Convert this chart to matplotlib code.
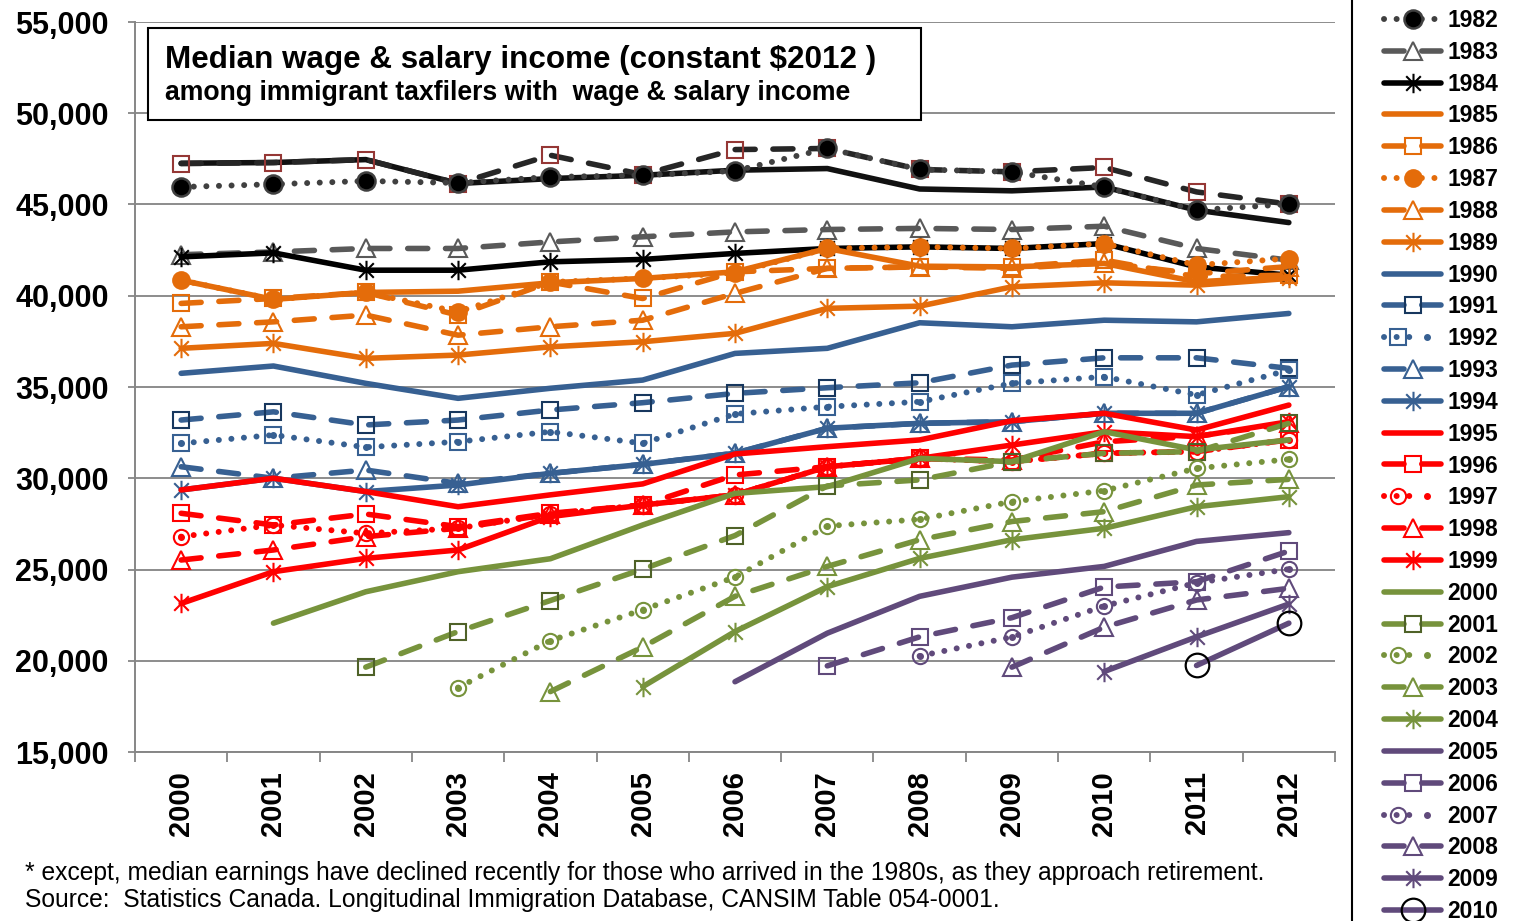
import numpy as np
import matplotlib
matplotlib.use("Agg")
import matplotlib.pyplot as plt
from matplotlib.lines import Line2D
from matplotlib.patches import Rectangle
from matplotlib.path import Path
from matplotlib.legend_handler import HandlerTuple

plt.rcParams['font.family'] = ['Liberation Sans', 'DejaVu Sans']

years = [2000, 2001, 2002, 2003, 2004, 2005, 2006, 2007, 2008, 2009, 2010, 2011, 2012]
N = None

# median wage & salary income by landing year (cohort), constant 2012 $
y1980 = [47260, 47300, 47460, 46150, 46420, 46600, 46880, 46970, 45850, 45750, 45960, 44690, 44010]
y1981 = [47240, 47300, 47460, 46150, 47700, 46640, 48010, 48070, 46920, 46790, 47030, 45690, 45020]
y1982 = [45960, 46110, 46290, 46180, 46510, 46600, 46840, 48070, 46920, 46790, 45960, 44690, 45020]
y1983 = [42250, 42400, 42590, 42590, 42950, 43230, 43500, 43630, 43690, 43630, 43810, 42590, 41950]
y1984 = [42130, 42350, 41400, 41400, 41860, 41990, 42320, 42590, 42680, 42590, 42860, 41580, 41130]
y1985 = [40850, 39800, 40180, 40250, 40710, 40950, 41310, 42590, 41620, 41580, 41770, 40760, 41040]
y1986 = [39580, 39850, 40180, 38940, 40750, 39850, 41310, 41500, 41580, 41580, 41950, 41040, 41130]
y1987 = [40850, 39800, 40180, 39120, 40750, 40950, 41260, 42590, 42680, 42590, 42860, 41680, 42040]
y1988 = [38300, 38570, 38940, 37840, 38300, 38660, 40130, 41500, 41580, 41500, 41800, 41200, 41600]
y1989 = [37120, 37390, 36570, 36750, 37200, 37480, 37940, 39310, 39430, 40490, 40710, 40580, 40950]
y1990 = [35750, 36150, 35200, 34380, 34930, 35380, 36840, 37120, 38520, 38300, 38660, 38570, 39030]
y1991 = [33190, 33640, 32920, 33190, 33740, 34140, 34650, 34960, 35230, 36200, 36600, 36600, 36020]
y1992 = [31910, 32370, 31700, 32000, 32550, 31910, 33520, 33920, 34190, 35200, 35560, 34560, 35930]
y1993 = [30630, 30000, 30450, 29720, 30270, 30760, 31370, 32740, 33010, 33100, 33560, 33560, 35020]
y1994 = [29360, 30000, 29270, 29630, 30270, 30760, 31370, 32740, 33010, 33100, 33560, 33560, 35020]
y1995 = [29360, 30000, 29270, 28440, 29090, 29690, 31330, 31730, 32100, 33150, 33560, 32640, 34010]
y1996 = [28080, 27440, 28040, 27350, 28080, 28530, 30180, 30630, 31090, 30910, 31370, 31460, 32100]
y1997 = [26800, 27440, 26980, 27260, 28040, 28530, 29090, 30630, 31090, 30910, 31370, 31460, 32100]
y1998 = [25520, 26070, 26800, 27260, 28040, 28530, 29090, 30630, 31090, 31000, 32000, 32300, 33000]
y1999 = [23140, 24880, 25610, 26070, 27900, 28530, 29090, 30630, 31090, 31820, 32550, 32280, 33100]
y2000 = [N, 22060, 23780, 24880, 25590, 27440, 29170, 29540, 31090, 30910, 32550, 31550, 32100]
y2001 = [N, N, 19650, 21600, 23300, 25020, 26860, 29580, 29910, 30910, 31370, 31460, 33010]
y2002 = [N, N, N, 18530, 21100, 22790, 24580, 27380, 27750, 28720, 29320, 30540, 31040]
y2003 = [N, N, N, N, 18310, 20750, 23530, 25170, 26630, 27630, 28170, 29630, 29940]
y2004 = [N, N, N, N, N, 18580, 21600, 24060, 25610, 26630, 27260, 28440, 28990]
y2005 = [N, N, N, N, N, N, 18850, 21510, 23530, 24580, 25170, 26540, 27020]
y2006 = [N, N, N, N, N, N, N, 19720, 21310, 22360, 24040, 24330, 26010]
y2007 = [N, N, N, N, N, N, N, N, 20260, 21300, 23000, 24270, 25020]
y2008 = [N, N, N, N, N, N, N, N, N, 19650, 21840, 23330, 23970]
y2009 = [N, N, N, N, N, N, N, N, N, N, 19410, 21310, 23110]
y2010 = [N, N, N, N, N, N, N, N, N, N, N, 19740, 22060]

cohorts = [1980, 1981, 1982, 1983, 1984, 1985, 1986, 1987, 1988, 1989,
           1990, 1991, 1992, 1993, 1994, 1995, 1996, 1997, 1998, 1999,
           2000, 2001, 2002, 2003, 2004, 2005, 2006, 2007, 2008, 2009, 2010]
series = [y1980, y1981, y1982, y1983, y1984, y1985, y1986, y1987, y1988, y1989,
          y1990, y1991, y1992, y1993, y1994, y1995, y1996, y1997, y1998, y1999,
          y2000, y2001, y2002, y2003, y2004, y2005, y2006, y2007, y2008, y2009, y2010]

ORANGE = '#E46C0A'
BLUE = '#376092'
RED = '#FF0000'
GREEN = '#77933C'
PURPLE = '#604A7B'

# asterisk marker like excel's (x + vertical bar)
ast = Path([(0, -1), (0, 1), (-0.75, -0.75), (0.75, 0.75), (-0.75, 0.75), (0.75, -0.75)],
           [Path.MOVETO, Path.LINETO] * 3)

LW = 4.0
DASH = (3.6, 3.2)
DOT = (0.01, 2.1)

def style(c):
    i = (c - 1980) % 5
    group = (c - 1980) // 5
    col = ['#111111', ORANGE, BLUE, RED, GREEN, PURPLE, PURPLE][group]
    st = dict(color=col, lw=LW, solid_capstyle='round', dash_capstyle='round',
              markersize=12, markeredgewidth=1.5, markerfacecolor='none', markeredgecolor=col)
    dot = False
    if i == 0:
        st['marker'] = 'None'
    elif i == 1:
        st.update(marker='s', dashes=DASH)
    elif i == 2:
        st.update(marker='o', dashes=DOT, markersize=11, lw=4.3)
        dot = True
    elif i == 3:
        st.update(marker='^', dashes=DASH, markersize=12.5)
    else:
        st.update(marker=ast, markersize=14, markeredgewidth=1.5)
    return st, dot

fig = plt.figure(figsize=(15.18, 9.21), dpi=100)
ax = fig.add_axes([135 / 1518, 1 - 752 / 921, 1200 / 1518, 730 / 921])
x = np.arange(len(years))

handles, labels = [], []
for c, vals in zip(cohorts, series):
    st, dot = style(c)
    if c == 1981:
        st.update(color='#262626', markeredgecolor='#953735')
    if c == 1982:
        st.update(color='#404040', markerfacecolor='black', markeredgecolor='#404040',
                  markersize=13, markeredgewidth=1.8)
        dot = False
    if c == 1983:
        st.update(color='#595959', markeredgecolor='#595959')
    if c == 1984:
        st.update(color='black', markeredgecolor='black')
    if c == 1987:
        st.update(markerfacecolor=ORANGE, markersize=12)
        dot = False
    if c == 1991:
        st.update(markeredgecolor='#17375E')
    if c == 1992:
        st.update(marker='s', markersize=12)
    if c == 2001:
        st.update(markeredgecolor='#4F6228')
    if c == 2010:
        st.update(marker='o', markersize=17, markeredgecolor='black', markeredgewidth=1.6)
    v = np.array([np.nan if a is None else a for a in vals], dtype=float)
    ln, = ax.plot(x, v, **st)
    h = ln
    if dot:
        d, = ax.plot(x, v, ls='None', marker='o', markersize=4, color=st['color'])
        h = (ln, d)
    if c >= 1982:
        handles.append(h)
        labels.append(str(c))

ax.set_xlim(-0.5, 12.5)
ax.set_ylim(15000, 55000)
ax.set_yticks(np.arange(15000, 55001, 5000))
ax.set_yticklabels(['{:,}'.format(v) for v in range(15000, 55001, 5000)],
                   fontsize=22, fontweight='bold')
ax.set_xticks(x)
ax.set_xticklabels([str(y) for y in years], rotation=90, fontsize=21, fontweight='bold')
ax.set_xticks(np.arange(-0.5, 13, 1), minor=True)
ax.tick_params(axis='x', which='major', length=0, pad=14)
ax.tick_params(axis='x', which='minor', length=7, color='#868686', width=1.3)
ax.tick_params(axis='y', length=5, color='#868686', width=1.3, pad=14)
ax.grid(axis='y', color='#8C8C8C', lw=1.4)
ax.set_axisbelow(True)
for s in ['top', 'right']:
    ax.spines[s].set_visible(False)
for s in ['left', 'bottom']:
    ax.spines[s].set_color('#868686')
    ax.spines[s].set_linewidth(1.4)

# title box
fig.add_artist(Rectangle((148 / 1518, 1 - 120 / 921), 773 / 1518, 92 / 921,
                         transform=fig.transFigure, facecolor='white', edgecolor='black',
                         lw=1.5, zorder=5))
fig.text(165 / 1518, 1 - 60 / 921, 'Median wage & salary income (constant $2012 )',
         fontsize=22.6, fontweight='bold', va='center', zorder=6)
fig.text(165 / 1518, 1 - 93 / 921, 'among immigrant taxfilers with  wage & salary income',
         fontsize=19.2, fontweight='bold', va='center', zorder=6)

fig.text(25 / 1518, 1 - 873 / 921,
         '* except, median earnings have declined recently for those who arrived in the 1980s, as they approach retirement.',
         fontsize=17.7, va='center')
fig.text(25 / 1518, 1 - 900 / 921,
         'Source:  Statistics Canada. Longitudinal Immigration Database, CANSIM Table 054-0001.',
         fontsize=17.7, va='center')

# legend panel
fig.add_artist(Line2D([1352 / 1518] * 2, [0, 1], transform=fig.transFigure, color='black', lw=1.5))
fig.legend(handles, labels, loc='upper left', bbox_to_anchor=(1384 / 1518, 1 - 9 / 921),
           frameon=False, prop={'weight': 'bold', 'size': 16.5}, handlelength=2.5,
           handletextpad=0.25, labelspacing=0.385, borderpad=0, borderaxespad=0,
           handler_map={tuple: HandlerTuple(ndivide=None)}, numpoints=1)

fig.savefig('out.png', dpi=100)
